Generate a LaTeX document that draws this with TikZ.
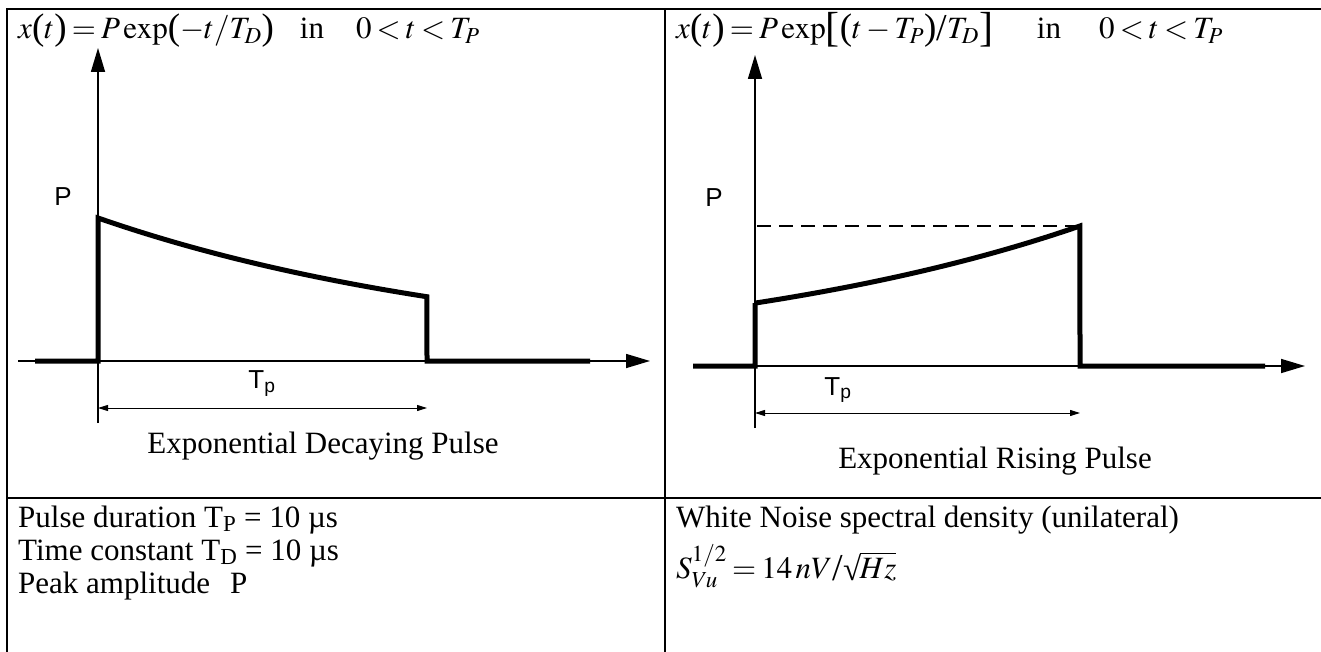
\documentclass[tikz,border=0pt]{standalone}
\usepackage{mathptmx}
\usepackage{fontspec}
\setmainfont{Liberation Serif}
\newfontfamily\helv{Liberation Sans}
\usetikzlibrary{arrows.meta, positioning}

\tikzset{
    grid line/.style={line width=2pt},
    axis/.style={line width=1.6pt, -{Triangle[length=24pt,width=14pt]}},
    pulse/.style={line width=5pt, line join=miter},
    dim/.style={line width=1pt, {Triangle[length=10pt,width=6pt]}-{Triangle[length=10pt,width=6pt]}},
    lbl/.style={font=\helv\fontsize{26}{30}\selectfont, inner sep=0pt},
    txt/.style={font=\fontsize{31}{36}\selectfont, inner sep=0pt},
}
\thickmuskip=3mu plus 2mu
\medmuskip=2.5mu plus 1mu
% taller delimiters
\newcommand{\lpar}{\mathopen{\raisebox{-1pt}{\fontsize{37}{37}\selectfont(}}}
\newcommand{\rpar}{\mathclose{\raisebox{-1pt}{\fontsize{37}{37}\selectfont)}}}
\newcommand{\lbrk}{\mathopen{\raisebox{-3pt}{\fontsize{42}{42}\selectfont[}}}
\newcommand{\rbrk}{\mathclose{\raisebox{-3pt}{\fontsize{42}{42}\selectfont]}}}
\newcommand{\bslash}{\mathord{\raisebox{-2pt}{\fontsize{38}{38}\selectfont/}}}
\newcommand{\rootof}[1]{\mbox{\raisebox{-2pt}{\fontsize{33}{33}\selectfont √}\kern-1.5pt$\overline{#1}$}}

\begin{document}
\begin{tikzpicture}[x=1pt, y=1pt]
    \useasboundingbox (0,0) rectangle (1321,-652);
    % table
    \draw[grid line] (7,-652) -- (7,-9) -- (1321,-9);
    \draw[grid line] (665,-9) -- (665,-652);
    \draw[grid line] (7,-498) -- (1321,-498);

    % formulas on top
    \node[txt, anchor=base west] (eqL) at (18,-39)
        {$x\lpar t\rpar=P\exp\lpar-t/T_D\rpar$\hspace{26pt}in\hspace{32pt}$0<t<T_P$};
    \node[txt, anchor=base west] (eqR) at (676,-39)
        {$x\lpar t\rpar=P\exp\lbrk\lpar t-T_P\rpar\bslash T_D\rbrk$\hspace{44pt}in\hspace{38pt}$0<t<T_P$};

    % decaying pulse
    \coordinate (oL) at (98,-361);
    \coordinate (yL) at (98,-48);
    \coordinate (bL) at (98,-423);
    \coordinate (eL) at (427,-361);
    \draw[axis] (18,-361) -- (650,-361);
    \draw[axis] (bL) -- (yL);
    \draw[pulse] (35,-361) -- (oL) -- (98,-218)
        -- plot[domain=0:1, samples=40] ({98+329*\x}, {-361+143*exp(-0.8*\x)})
        -- (eL) -- (590,-361);
    \node[lbl] (pL) at (63,-197) {P};
    \draw[dim] (98,-408) -- (427,-408);
    \node[lbl] (tpL) at (262,-384) {T\textsubscript{p}};
    \node[txt] (capL) at (323,-446) {Exponential Decaying Pulse};

    % rising pulse
    \coordinate (oR) at (755,-366);
    \coordinate (yR) at (755,-55);
    \coordinate (bR) at (755,-428);
    \coordinate (eR) at (1080,-366);
    \draw[axis] (693,-366) -- (1305,-366);
    \draw[axis] (bR) -- (yR);
    \draw[pulse] (693,-366) -- (oR) -- (755,-303)
        -- plot[domain=0:1, samples=40] ({755+325*\x}, {-366+140*exp(0.8*(\x-1))})
        -- (eR) -- (1265,-366);
    \draw[line width=1.5pt, dash pattern=on 14pt off 8pt] (757,-226) -- (1080,-226);
    \node[lbl] (pR) at (714,-198) {P};
    \draw[dim] (755,-413) -- (1080,-413);
    \node[lbl] (tpR) at (838,-390) {T\textsubscript{p}};
    \node[txt] (capR) at (995,-461) {Exponential Rising Pulse};

    % data
    \node[txt, anchor=base west] (tP) at (18,-527) {Pulse duration T\textsubscript{P} = 10 µs};
    \node[txt, anchor=base west] (tD) at (18,-560) {Time constant T\textsubscript{D} = 10 µs};
    \node[txt, anchor=base west] (pk) at (18,-593) {Peak amplitude\hspace{20pt}P};
    \node[txt, anchor=base west] (wn) at (676,-527) {White Noise spectral density (unilateral)};
    \node[txt, anchor=base west] (sv) at (676,-578) {$S_{Vu}^{1/2}=14\,nV\bslash\rootof{Hz}$};
\end{tikzpicture}
\end{document}
